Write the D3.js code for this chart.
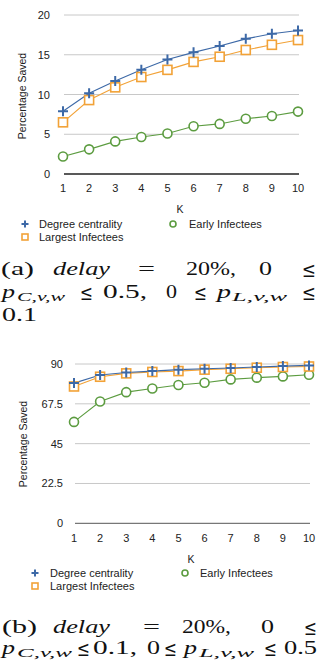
<!DOCTYPE html>
<html>
<head>
<meta charset="utf-8">
<script src="https://cdn.jsdelivr.net/npm/d3@7"></script>
<style>
  body { margin: 0; background: #fff; }
  svg { display: block; }
</style>
</head>
<body>
<div id="chart"></div>
<script>
const width = 329;
const height = 660;

// data
const kValues = [1, 2, 3, 4, 5, 6, 7, 8, 9, 10];
const seriesNames = ["Degree centrality", "Largest Infectees", "Early Infectees"];

const degreeA = [7.9, 10.15, 11.7, 13.1, 14.4, 15.3, 16.1, 17.0, 17.65, 18.05];
const largestA = [6.5, 9.3, 10.9, 12.2, 13.1, 14.1, 14.75, 15.6, 16.25, 16.85];
const earlyA = [2.2, 3.1, 4.1, 4.65, 5.1, 6.0, 6.3, 6.95, 7.3, 7.85];
const yTicksA = [0, 5, 10, 15, 20];

const degreeB = [79.2, 83.8, 85.2, 86.0, 86.8, 87.3, 87.7, 88.3, 88.8, 89.2];
const largestB = [77.3, 82.8, 84.7, 85.5, 86.0, 86.8, 87.3, 87.9, 88.3, 88.6];
const earlyB = [57.3, 68.8, 74.1, 76.2, 78.1, 79.4, 81.3, 82.3, 83.0, 83.9];
const yTicksB = [0, 22.5, 45, 67.5, 90];

const colors = { blue: "#3d69a7", orange: "#f2a237", green: "#5c9c40" };

const svg = d3.select("#chart").append("svg")
  .attr("width", width)
  .attr("height", height);

const sans = "'Liberation Sans', Arial, sans-serif";
const serif = "'Liberation Serif', 'DejaVu Serif', serif";

function drawMarker(g, kind, x, y, s) {
  if (kind == "plus") {
    g.append("path")
      .attr("d", `M${x - s},${y}H${x + s}M${x},${y - s}V${y + s}`)
      .attr("stroke", colors.blue).attr("stroke-width", 2).attr("fill", "none");
  } else if (kind == "square") {
    g.append("rect")
      .attr("x", x - s).attr("y", y - s).attr("width", 2 * s).attr("height", 2 * s)
      .attr("fill", "#fff").attr("stroke", colors.orange).attr("stroke-width", 1.6);
  } else {
    g.append("circle")
      .attr("cx", x).attr("cy", y).attr("r", s)
      .attr("fill", "#fff").attr("stroke", colors.green).attr("stroke-width", 1.6);
  }
}

function drawChart(cfg) {
  const g = svg.append("g");
  const x = d3.scaleLinear().domain([1, 10]).range(cfg.xRange);
  const y = d3.scaleLinear().domain([0, d3.max(cfg.yTicks)]).range(cfg.yRange);

  // grid
  g.selectAll(".grid").data(cfg.yTicks).enter().append("line")
    .attr("x1", cfg.xRange[0] + 1).attr("x2", cfg.xRange[1] + 1)
    .attr("y1", d => y(d)).attr("y2", d => y(d))
    .attr("stroke", d => d == 0 ? cfg.zeroColor : "#c8c8c8")
    .attr("stroke-width", d => d == 0 ? 1.3 : 1);

  // y tick labels
  g.selectAll(".ylab").data(cfg.yTicks).enter().append("text")
    .attr("x", cfg.yLabelX).attr("y", d => y(d) + 4)
    .attr("text-anchor", "end")
    .attr("font-family", sans).attr("font-size", 11).attr("fill", "#222")
    .text(d => d);

  // x tick labels
  g.selectAll(".xlab").data(kValues).enter().append("text")
    .attr("x", d => x(d)).attr("y", cfg.xLabelY)
    .attr("text-anchor", "middle")
    .attr("font-family", sans).attr("font-size", 11).attr("fill", "#222")
    .text(d => d);

  g.append("text")
    .attr("transform", `translate(${cfg.titleY[0]},${cfg.titleY[1]}) rotate(-90)`)
    .attr("text-anchor", "middle")
    .attr("font-family", sans).attr("font-size", 10.5).attr("fill", "#222")
    .text("Percentage Saved");

  g.append("text")
    .attr("x", cfg.kPos[0]).attr("y", cfg.kPos[1])
    .attr("text-anchor", "middle")
    .attr("font-family", sans).attr("font-size", 10.5).attr("fill", "#222")
    .text("K");

  const line = d3.line().x((d, i) => x(kValues[i])).y(d => y(d));
  const series = [
    { vals: cfg.early, color: colors.green, kind: "circle", s: 4.5 },
    { vals: cfg.largest, color: colors.orange, kind: "square", s: 4.5 },
    { vals: cfg.degree, color: colors.blue, kind: "plus", s: 5 }
  ];
  series.forEach(s => {
    g.append("path").datum(s.vals)
      .attr("d", line)
      .attr("fill", "none").attr("stroke", s.color).attr("stroke-width", 1.1);
  });
  series.forEach(s => {
    s.vals.forEach((v, i) => drawMarker(g, s.kind, x(kValues[i]), y(v), s.s));
  });

  // legend
  const L = cfg.legend;
  drawMarker(g, "plus", L.x0, L.y0, 3.5);
  drawMarker(g, "square", L.x0, L.y1, 3);
  drawMarker(g, "circle", L.x2, L.y0, 3);
  [[seriesNames[0], L.t0, L.y0], [seriesNames[1], L.t0, L.y1], [seriesNames[2], L.t2, L.y0]]
    .forEach(d => {
      g.append("text")
        .attr("x", d[1]).attr("y", d[2] + 4)
        .attr("font-family", sans).attr("font-size", 11).attr("fill", "#222")
        .text(d[0]);
    });
}

drawChart({
  degree: degreeA, largest: largestA, early: earlyA, yTicks: yTicksA,
  xRange: [63, 298], yRange: [174, 15], zeroColor: "#222",
  yLabelX: 50, xLabelY: 192, titleY: [26, 96], kPos: [180, 213],
  legend: { x0: 25, y0: 224, y1: 237, x2: 173, t0: 39, t2: 189 }
});

drawChart({
  degree: degreeB, largest: largestB, early: earlyB, yTicks: yTicksB,
  xRange: [74, 309], yRange: [523.3, 364], zeroColor: "#777",
  yLabelX: 63, xLabelY: 542, titleY: [27, 444], kPos: [191, 563],
  legend: { x0: 35, y0: 573, y1: 586, x2: 185, t0: 50, t2: 200 }
});

// captions, each token stretched to the width it has in the picture
// token: [text, x0, x1, style]  style: "r" roman, "i" italic, "s" subscript, "le" relation
const captionA = [
  [275, [["(a)", 1, 34, "r"], ["delay", 53, 110, "i"], ["=", 138, 155, "r"], ["20%,", 186, 236, "r"], ["0", 259, 272, "r"], ["≤", 302, 316, "le"]]],
  [298, [["p", 2, 15, "i"], ["C,v,w", 17, 65, "s"], ["≤", 80, 93, "le"], ["0.5,", 103, 147, "r"], ["0", 166, 177, "r"], ["≤", 194, 207, "le"], ["p", 217, 231, "i"], ["L,v,w", 232, 287, "s"], ["≤", 302, 316, "le"]]],
  [321, [["0.1", 2, 37, "r"]]]
];
const captionB = [
  [633, [["(b)", 2, 37, "r"], ["delay", 53, 110, "i"], ["=", 143, 160, "r"], ["20%,", 182, 231, "r"], ["0", 261, 274, "r"], ["≤", 304, 317, "le"]]],
  [654, [["p", 2, 15, "i"], ["C,v,w", 17, 72, "s"], ["≤", 77, 90, "le"], ["0.1,", 93, 137, "r"], ["0", 147, 160, "r"], ["≤", 164, 177, "le"], ["p", 184, 197, "i"], ["L,v,w", 199, 254, "s"], ["≤", 264, 277, "le"], ["0.5", 284, 317, "r"]]]
];

function drawCaption(lines) {
  lines.forEach(([base, toks]) => {
    toks.forEach(t => {
      const st = t[3];
      svg.append("text")
        .attr("x", t[1])
        .attr("y", st == "s" ? base + 3 : st == "le" ? base + 2 : base)
        .attr("font-family", st == "le" ? "'DejaVu Serif', serif" : serif)
        .attr("font-size", st == "s" ? 12.5 : st == "le" ? 21 : 19)
        .attr("font-style", st == "i" || st == "s" ? "italic" : "normal")
        .attr("fill", "#111")
        .attr("textLength", t[2] - t[1])
        .attr("lengthAdjust", "spacingAndGlyphs")
        .text(t[0]);
    });
  });
}
drawCaption(captionA);
drawCaption(captionB);
</script>
</body>
</html>
